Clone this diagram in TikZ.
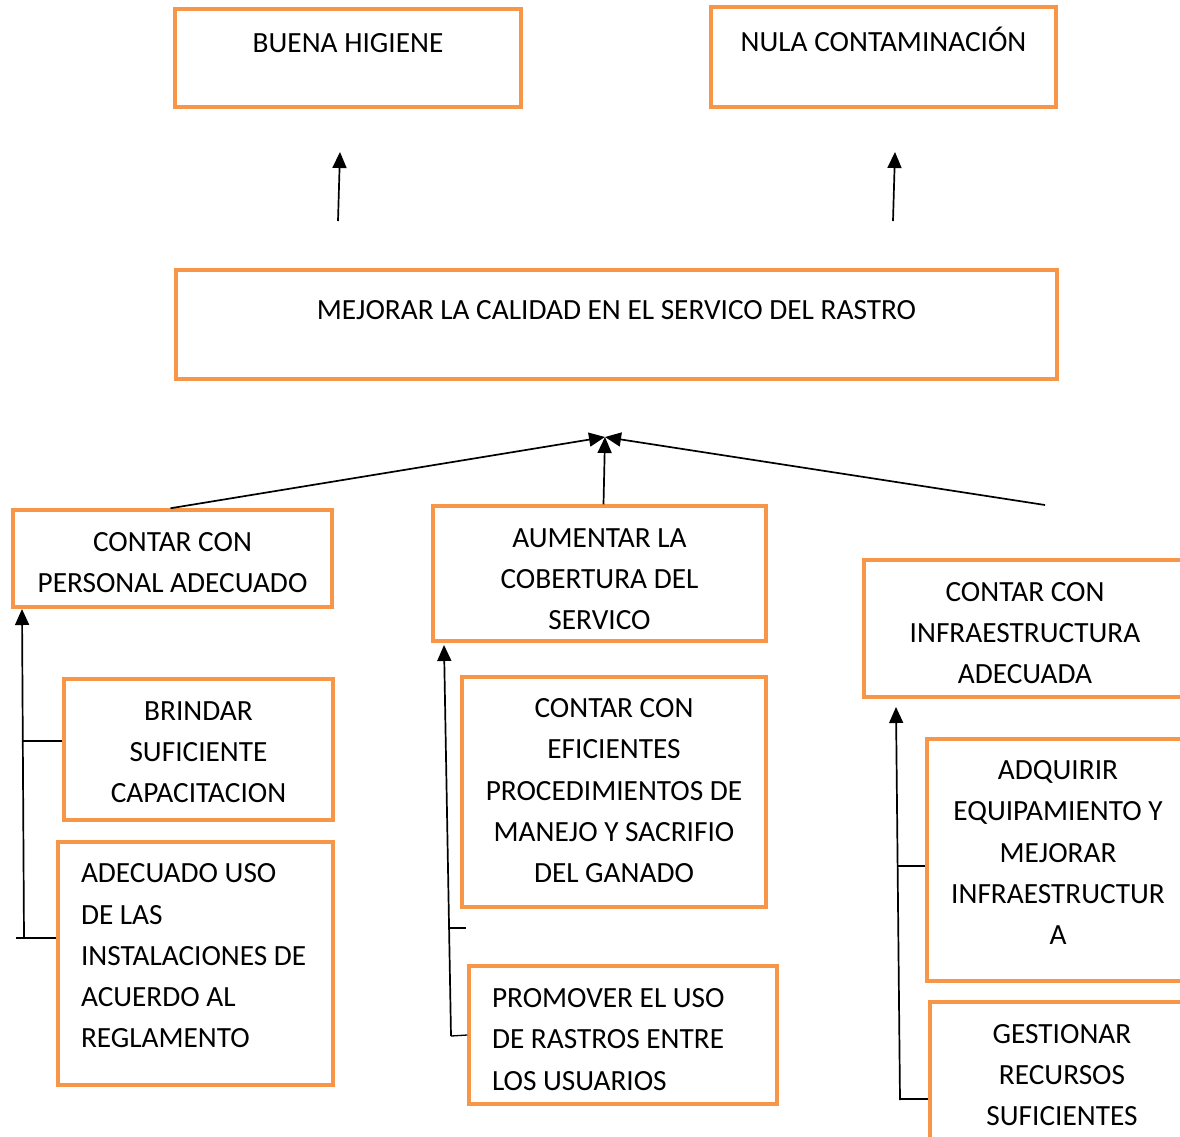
\documentclass[tikz,border=0pt]{standalone}
\usepackage{fontspec}
\setmainfont{Carlito}
\usetikzlibrary{arrows.meta,positioning}
\definecolor{naranja}{RGB}{247,150,70}

\tikzset{
  caja/.style={draw=naranja, line width=3.5pt, inner sep=0pt, align=center,
    font=\fontsize{29.3}{41.25}\selectfont},
  % struts on first and last line, to move the text in its box
  tope/.style={execute at begin node={\rule{0pt}{#1pt}}}, tope/.default=29,
  fondo/.style={execute at end node={\rule[-#1pt]{0pt}{0pt}}}, fondo/.default=12.5,
  varias/.style={caja, tope, fondo},
  flecha/.style={line width=1.7pt, -{Triangle[length=16pt,width=14pt]}},
  rama/.style={line width=1.3pt}
}

\begin{document}
\begin{tikzpicture}[x=1pt,y=-1pt]
  \useasboundingbox (0,0) rectangle (1180,1136);
  \clip (0,0) rectangle (1180,1136);
  % fines
  \node[caja, minimum width=346, minimum height=98, text height=43.5, text depth=54.5] (higiene) at (348,58) {BUENA HIGIENE};
  \node[caja, minimum width=345, minimum height=100, text height=44.5, text depth=55.5] (contaminacion) at (883.5,57) {NULA CONTAMINACIÓN};
  % objetivo
  \node[caja, minimum width=881, minimum height=109, text height=49.5, text depth=59.5] (objetivo) at (616.5,324.5) {MEJORAR LA CALIDAD EN EL SERVICO DEL RASTRO};
  % medios
  \node[caja, text height=78, text depth=10, minimum width=319, minimum height=97] (personal) at (172.5,558.5) {CONTAR CON\\PERSONAL ADECUADO};
  \node[caja, text height=122, text depth=10, minimum width=333, minimum height=135] (cobertura) at (599.5,573.5) {AUMENTAR LA\\COBERTURA DEL\\SERVICO};
  \node[caja, text height=120, text depth=10, minimum width=322, minimum height=137] (infra) at (1025,628.5) {CONTAR CON\\INFRAESTRUCTURA\\ADECUADA};
  % acciones
  \node[caja, text height=116, text depth=10, minimum width=269, minimum height=141] (capacitacion) at (198.5,749.5) {BRINDAR\\SUFICIENTE\\CAPACITACION};
  \node[varias, fondo=25.1, minimum width=275, minimum height=243, text width=229, align=flush left] (instalaciones) at (195.5,963.5) {ADECUADO USO\\DE LAS\\INSTALACIONES DE\\ACUERDO AL\\REGLAMENTO};
  \node[caja, text height=191, text depth=10, minimum width=304, minimum height=230] (procedimientos) at (614,792) {CONTAR CON\\EFICIENTES\\PROCEDIMIENTOS DE\\MANEJO Y SACRIFIO\\DEL GANADO};
  \node[varias, tope=40.4, minimum width=308, minimum height=138, text width=262, align=flush left] (promover) at (623,1035) {PROMOVER EL USO\\DE RASTROS ENTRE\\LOS USUARIOS};
  \node[caja, text height=179, text depth=10, minimum width=262, minimum height=242] (equipamiento) at (1058,860) {ADQUIRIR\\EQUIPAMIENTO Y\\MEJORAR\\INFRAESTRUCTUR\\A};
  \node[caja, text height=107, text depth=10, minimum width=264, minimum height=150] (recursos) at (1062,1077) {GESTIONAR\\RECURSOS\\SUFICIENTES};

  % flechas hacia los fines
  \coordinate (f1) at (338,221);
  \coordinate (f1tip) at (340,152);
  \coordinate (f2) at (893,221);
  \coordinate (f2tip) at (895,152);
  \draw[flecha] (f1) -- (f1tip);
  \draw[flecha] (f2) -- (f2tip);

  % medios hacia el objetivo
  \coordinate (meta) at (605,437);
  \coordinate (m3) at (1045,505);
  \draw[flecha] ([xshift=-2]personal.north) -- (meta);
  \draw[flecha] ([xshift=4]cobertura.north) -- (meta);
  \draw[flecha] (m3) -- (meta);

  % acciones izquierda
  \coordinate (i0) at (24,938);
  \coordinate (itip) at (22,609);
  \draw[flecha] (i0) -- (itip);
  \draw[rama] (23,741) -- (capacitacion.west |- 0,741);
  \draw[rama] (16,938) -- (instalaciones.west |- 0,938);

  % acciones centro
  \coordinate (c0) at (451,1036);
  \coordinate (ctip) at (444,645);
  \draw[flecha] (c0) -- (ctip);
  \draw[rama] (448,928) -- (466,928);
  \draw[rama] (c0) -- (promover.west |- 0,1035);

  % acciones derecha
  \coordinate (d0) at (900,1100);
  \coordinate (dtip) at (896,707);
  \draw[flecha] (d0) -- (dtip);
  \draw[rama] (898,866) -- (equipamiento.west |- 0,866);
  \draw[rama] (899,1099) -- (recursos.west |- 0,1099);
\end{tikzpicture}
\end{document}
